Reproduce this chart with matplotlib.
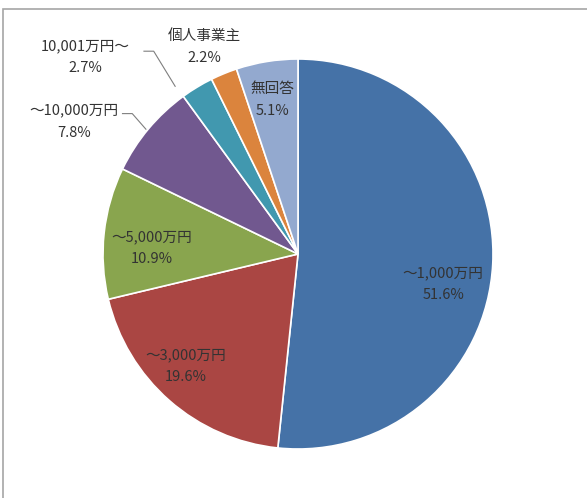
import matplotlib.pyplot as plt
from matplotlib.patches import Rectangle

plt.rcParams['font.family'] = ['Noto Sans CJK JP', 'DejaVu Sans']

labels = ['～1,000万円', '～3,000万円', '～5,000万円', '～10,000万円',
          '10,001万円～', '個人事業主', '無回答']
shares = [51.6, 19.6, 10.9, 7.8, 2.7, 2.2, 5.1]
cols = ['#4572A7', '#AA4643', '#89A54E', '#71588F', '#4198AF', '#DB843D', '#93A9CF']

# label positions in pie units (radius 1, centred at 0)
label_xy = [(0.745, -0.155), (-0.575, -0.575), (-0.75, 0.03), (-1.15, 0.68),
            (-1.09, 1.01), (-0.48, 1.06), (-0.13, 0.79)]

fig = plt.figure(figsize=(5.87, 4.98), dpi=100)
fig.patches.append(Rectangle((3 / 587, -0.1), 1.2, (498 - 9) / 498 + 0.1,
                             transform=fig.transFigure, fill=False,
                             edgecolor='#a6a6a6', linewidth=1.2))

ax = fig.add_axes([(298 - 195) / 587, (498 - 254 - 195) / 498, 390 / 587, 390 / 498])
ax.pie(shares, colors=cols, startangle=90, counterclock=False,
       wedgeprops=dict(edgecolor='white', linewidth=1.2))
ax.set_xlim(-1, 1)
ax.set_ylim(-1, 1)
ax.set_aspect('equal')

for lab, val, (x, y) in zip(labels, shares, label_xy):
    ax.text(x, y, f'{lab}\n{val}%', ha='center', va='center', fontsize=10.5,
            color='#333333', linespacing=1.75, clip_on=False)

# leader lines for the small outer labels
ax.plot([-0.9, -0.85, -0.78], [0.72, 0.72, 0.64], color='#7f7f7f', lw=0.8, clip_on=False)
ax.plot([-0.79, -0.74, -0.63], [1.04, 1.04, 0.86], color='#7f7f7f', lw=0.8, clip_on=False)

fig.savefig('out.png', dpi=100)
